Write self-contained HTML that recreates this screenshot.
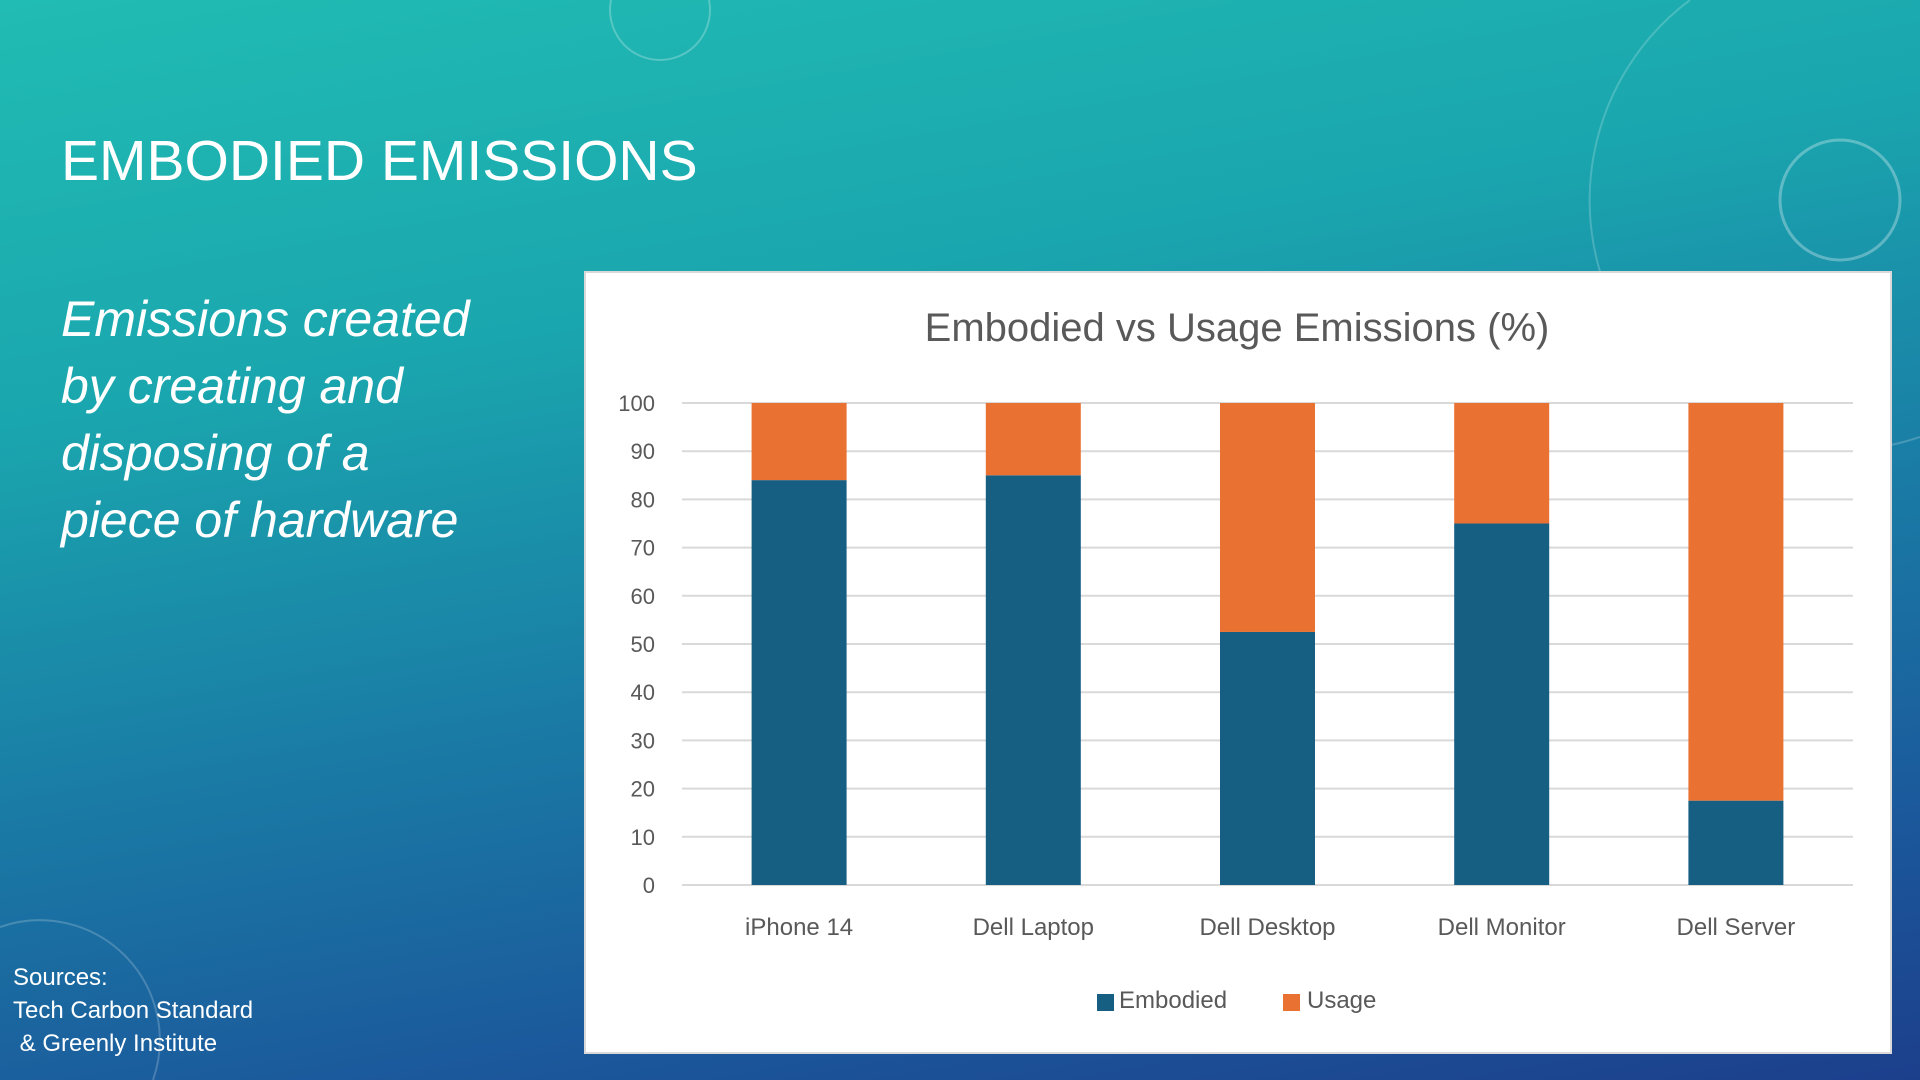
<!DOCTYPE html>
<html><head><meta charset="utf-8"><style>
html{margin:0;padding:0;width:1920px;height:1080px;overflow:hidden}
body{margin:0;padding:0;width:1920px;height:1080px;overflow:hidden;position:relative;font-family:"Liberation Sans",sans-serif;
background:linear-gradient(170deg,#21bcb3 0%,#1aa6ae 30%,#1a7fa6 55%,#1b5a9c 80%,#1c3f8c 100%);}
.t{position:absolute;color:#fff}
</style></head><body>
<svg width="1920" height="1080" style="position:absolute;left:0;top:0;display:block">
<path d="M611,0 A50,50 0 1 0 709,0" fill="none" stroke="rgba(255,255,255,0.25)" stroke-width="2"/>
<path d="M1690,0 A250,250 0 0 0 1920,437" fill="none" stroke="rgba(255,255,255,0.2)" stroke-width="2"/>
<circle cx="1840" cy="200" r="60" fill="none" stroke="rgba(255,255,255,0.3)" stroke-width="3"/>
<path d="M0,927 A120,120 0 0 1 153,1080" fill="none" stroke="rgba(255,255,255,0.2)" stroke-width="2"/>
</svg>
<div class="t" style="left:61px;top:128px;font-size:57px;font-weight:300">EMBODIED EMISSIONS</div>
<div class="t" style="left:61px;top:286px;font-size:50px;font-style:italic;line-height:67px">Emissions created<br>by creating and<br>disposing of a<br>piece of hardware</div>
<div class="t" style="left:13px;top:961px;font-size:24px;line-height:33px">Sources:<br>Tech Carbon Standard<br>&nbsp;&amp; Greenly Institute</div>
<div style="position:absolute;left:584px;top:271px;width:1308px;height:783px;background:#fff;border:2px solid #d9d9d9;box-sizing:border-box"></div>
<svg id="chart" width="1920" height="1080" style="position:absolute;left:0;top:0;display:block"></svg>
<script>
const categories=["iPhone 14","Dell Laptop","Dell Desktop","Dell Monitor","Dell Server"];
const embodied=[84,85,52.5,75,17.5];
const usage=[16,15,47.5,25,82.5];
const ticks=[0,10,20,30,40,50,60,70,80,90,100];
const svg=document.getElementById('chart');
const NS="http://www.w3.org/2000/svg";
const x0=682,x1=1853,y0=885,y1=403;
const ys=v=>y0-(v/100)*(y0-y1);
const bw=(x1-x0)/categories.length;
const xc=i=>x0+bw*(i+0.5);
function el(t,a,txt){const e=document.createElementNS(NS,t);for(const k in a)e.setAttribute(k,a[k]);if(txt!==undefined)e.textContent=txt;svg.appendChild(e);return e;}
let e=el('text',{x:1237,y:341,'text-anchor':'middle','font-size':40,fill:'#595959','font-family':'Liberation Sans, sans-serif'},'Embodied vs Usage Emissions (%)');


ticks.forEach(t=>{
 let g=el('line',{x1:x0,x2:x1,y1:ys(t),y2:ys(t),stroke:'#d9d9d9','stroke-width':2});
 
 
 let l=el('text',{x:655,y:ys(t)+8,'text-anchor':'end','font-size':22,fill:'#595959'},t);
 
 
});
categories.forEach((c,i)=>{
 const w=95,x=xc(i)-w/2;
 let b=el('rect',{x:x,y:ys(embodied[i]),width:w,height:ys(0)-ys(embodied[i]),fill:'#175e83'});
 
 
 let u=el('rect',{x:x,y:ys(embodied[i]+usage[i]),width:w,height:ys(embodied[i])-ys(embodied[i]+usage[i]),fill:'#e97132'});
 
 
 let l=el('text',{x:xc(i),y:935,'text-anchor':'middle','font-size':24,fill:'#595959'},c);
 
 
});
let s1=el('rect',{x:1097,y:994,width:17,height:17,fill:'#175e83'});


let t1=el('text',{x:1119,y:1008,'font-size':24,fill:'#595959'},'Embodied');


let s2=el('rect',{x:1283,y:994,width:17,height:17,fill:'#e97132'});


let t2=el('text',{x:1307,y:1008,'font-size':24,fill:'#595959'},'Usage');


</script>
</body></html>
